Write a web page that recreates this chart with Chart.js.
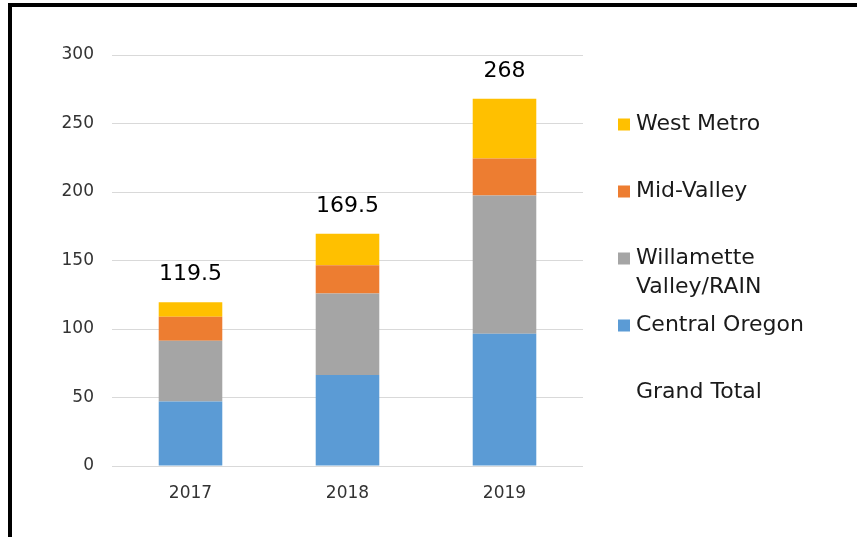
<!DOCTYPE html>
<html>
<head>
<meta charset="utf-8">
<script src="https://cdn.jsdelivr.net/npm/chart.js@4.4.1/dist/chart.umd.min.js"></script>
<style>
    body { margin: 0; background: #fff; }
    #caixa { position: relative; width: 857px; height: 537px; }
    #moldura {
        position: absolute; left: 8px; top: 3px; right: 0; bottom: 0;
        border-top: 4px solid #000; border-left: 4px solid #000;
        pointer-events: none;
    }
</style>
</head>
<body>
<div id="caixa">
    <canvas id="grafico" width="857" height="537"></canvas>
    <div id="moldura"></div>
</div>
<script>
// Dados
const anos = ['2017', '2018', '2019'];
const centralOregon = [47, 66.5, 96.5];
const willametteRain = [44.5, 59.5, 101];
const midValley = [17.5, 20.5, 27];
const westMetro = [10.5, 23, 43.5];
const grandTotal = [119.5, 169.5, 268];
const eixoY = { min: 0, max: 300, passo: 50 };

const fonte = '"DejaVu Sans", Verdana, sans-serif';

// Rótulos de total acima das barras
const rotulosTotal = {
    id: 'rotulosTotal',
    afterDatasetsDraw(chart) {
        const ctx = chart.ctx;
        const meta = chart.getDatasetMeta(4);
        ctx.save();
        ctx.font = '22px ' + fonte;
        ctx.fillStyle = '#000';
        ctx.textAlign = 'center';
        ctx.textBaseline = 'middle';
        meta.data.forEach((p, i) => {
            ctx.fillText(String(grandTotal[i]), p.x, p.y - 28);
        });
        ctx.restore();
    }
};

// Legenda desenhada à direita
const legendaDireita = {
    id: 'legendaDireita',
    afterDraw(chart) {
        const ctx = chart.ctx;
        const ds = chart.data.datasets;
        const itens = ds.slice(0, 4).reverse().concat([ds[4]]);
        ctx.save();
        ctx.font = '22px ' + fonte;
        ctx.textBaseline = 'middle';
        itens.forEach((d, i) => {
            const y = 124.5 + i * 67;
            if (d.type !== 'line') {
                ctx.fillStyle = d.backgroundColor;
                ctx.fillRect(618, y - 6, 12, 12);
            }
            // quebra de linha simples
            const palavras = d.label.split(' ');
            const linhas = [];
            let atual = '';
            palavras.forEach(w => {
                const teste = atual ? atual + ' ' + w : w;
                if (ctx.measureText(teste).width > 200 && atual) {
                    linhas.push(atual);
                    atual = w;
                } else {
                    atual = teste;
                }
            });
            linhas.push(atual);
            ctx.fillStyle = '#1a1a1a';
            linhas.forEach((l, j) => ctx.fillText(l, 636, y + j * 28.5));
        });
        ctx.restore();
    }
};

const ctx = document.getElementById('grafico').getContext('2d');
window.graficoBarras = new Chart(ctx, {
    type: 'bar',
    data: {
        labels: anos,
        datasets: [
            { label: 'Central Oregon', data: centralOregon, backgroundColor: '#5B9BD5' },
            { label: 'Willamette Valley/RAIN', data: willametteRain, backgroundColor: '#A5A5A5' },
            { label: 'Mid-Valley', data: midValley, backgroundColor: '#ED7D31' },
            { label: 'West Metro', data: westMetro, backgroundColor: '#FFC000' },
            {
                label: 'Grand Total', type: 'line', data: grandTotal, stack: 'total',
                showLine: false, pointRadius: 0, borderColor: 'transparent', backgroundColor: 'transparent'
            }
        ]
    },
    options: {
        responsive: false,
        animation: false,
        datasets: {
            bar: { categoryPercentage: 1, barPercentage: 0.405, stack: 'regioes' }
        },
        layout: { padding: { top: 55, right: 274, left: 0, bottom: 0 } },
        plugins: {
            legend: { display: false },
            tooltip: { enabled: false }
        },
        scales: {
            x: {
                stacked: true,
                grid: { display: false },
                border: { display: false },
                ticks: { color: '#333', font: { family: fonte, size: 17 }, padding: 9 },
                afterFit(s) { s.height = 71; }
            },
            y: {
                stacked: true,
                min: eixoY.min,
                max: eixoY.max,
                grid: { color: '#d9d9d9', drawTicks: false },
                border: { display: false },
                ticks: {
                    stepSize: eixoY.passo,
                    color: '#333',
                    font: { family: fonte, size: 17 },
                    padding: 18
                },
                afterFit(s) { s.width = 112; }
            }
        }
    },
    plugins: [rotulosTotal, legendaDireita]
});
</script>
</body>
</html>
